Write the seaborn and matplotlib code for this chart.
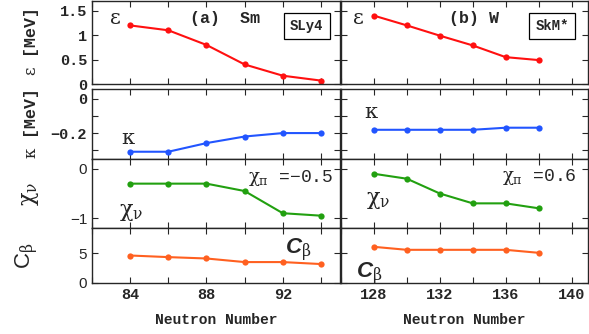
import numpy as np
import matplotlib
matplotlib.use("Agg")
import matplotlib.pyplot as plt
import seaborn as sns
from matplotlib.ticker import FixedLocator, NullFormatter

sns.set_style("ticks")
plt.rcParams["font.family"] = ["Liberation Mono", "DejaVu Sans"]
plt.rcParams["mathtext.fontset"] = "custom"
plt.rcParams["mathtext.rm"] = "DejaVu Serif"
plt.rcParams["mathtext.it"] = "DejaVu Serif"
plt.rcParams["mathtext.sf"] = "Liberation Sans"
plt.rcParams["mathtext.bf"] = "Liberation Sans:bold:italic"

# data
n_sm = [84, 86, 88, 90, 92, 94]
n_w = [128, 130, 132, 134, 136, 138]

eps_sm = [1.2, 1.1, 0.8, 0.4, 0.17, 0.07]
eps_w = [1.40, 1.20, 0.99, 0.79, 0.55, 0.49]
kap_sm = [-0.308, -0.308, -0.258, -0.22, -0.2, -0.2]
kap_w = [-0.181, -0.181, -0.181, -0.181, -0.169, -0.169]
chi_sm = [-0.30, -0.30, -0.30, -0.45, -0.90, -0.95]
chi_w = [-0.10, -0.20, -0.50, -0.70, -0.70, -0.80]
cb_sm = [4.6, 4.33, 4.1, 3.5, 3.5, 3.17]
cb_w = [6.05, 5.55, 5.55, 5.55, 5.55, 5.05]

colors = ["#ff1010", "#2255ff", "#22a010", "#ff6020"]
ylims = [(0, 1.7), (-0.35, 0.055), (-1.2, 0.2), (0, 9.2)]
yticks = [[0, 0.5, 1, 1.5], [0, -0.2], [0, -1], [0, 5]]
yticklabels = [["0", "0.5", "1", "1.5"], ["0", "\u22120.2"], ["0", "\u22121"], ["0", "5"]]
yminor = [[], [-0.1, -0.3], [], []]
ylabels = [r"$\varepsilon$ [MeV]", r"$\kappa$ [MeV]", r"$\chi_{\nu}$", r"$\mathsf{C}_{\beta}$"]

W, H = 589, 334
fig = plt.figure(figsize=(W / 100, H / 100), dpi=100)

cols = [(92, 340), (341, 588)]
rows = [(1, 84), (89, 159), (159, 228), (228, 283)]
series = [[eps_sm, kap_sm, chi_sm, cb_sm], [eps_w, kap_w, chi_w, cb_w]]
xs = [n_sm, n_w]
xlims = [(82, 95), (126, 141)]
xmaj = [[84, 88, 92], [128, 132, 136, 140]]
xall = [np.arange(82, 96, 2), np.arange(126, 142, 2)]

axes = [[None] * 4 for _ in range(2)]
for c, (x0, x1) in enumerate(cols):
    for r, (y0, y1) in enumerate(rows):
        ax = fig.add_axes([x0 / W, (H - y1) / H, (x1 - x0) / W, (y1 - y0) / H])
        axes[c][r] = ax
        sns.lineplot(x=xs[c], y=series[c][r], ax=ax, color=colors[r], marker="o",
                     markersize=4.5, markeredgewidth=0, linewidth=1.5)
        ax.set_xlim(*xlims[c])
        ax.set_ylim(*ylims[r])
        ax.xaxis.set_major_locator(FixedLocator(xmaj[c]))
        ax.xaxis.set_minor_locator(FixedLocator([v for v in xall[c] if v not in xmaj[c]]))
        ax.set_yticks(yticks[r])
        ax.yaxis.set_minor_locator(FixedLocator(yminor[r]))
        ax.tick_params(which="both", direction="in", top=True, right=True,
                       length=4, width=0.8, labelsize=10)
        for s in ax.spines.values():
            s.set_linewidth(1.0)
        if c == 0:
            if r < 2:
                ax.set_yticklabels(yticklabels[r], fontweight="bold", fontsize=11)
                ax.set_ylabel(ylabels[r], fontsize=12, fontweight="bold")
            else:
                ax.set_yticklabels(yticklabels[r], family="Liberation Sans", fontsize=11)
                ax.set_ylabel(ylabels[r], fontsize=16)
        else:
            ax.yaxis.set_major_formatter(NullFormatter())
        if r < 3:
            ax.xaxis.set_major_formatter(NullFormatter())
        else:
            for lab in ax.get_xticklabels():
                lab.set_fontweight("bold")
                lab.set_fontsize(11)
            ax.set_xlabel("Neutron Number", fontsize=10.5, fontweight="bold", labelpad=8)

for r in range(4):
    axes[0][r].yaxis.set_label_coords(-0.205, 0.5)

a = axes[0]
b = axes[1]
a[0].text(0.07, 0.72, r"$\varepsilon$", transform=a[0].transAxes, fontsize=15)
a[0].text(0.395, 0.74, "(a)  Sm", transform=a[0].transAxes, fontsize=12, fontweight="bold")
a[0].text(0.865, 0.65, "SLy4", transform=a[0].transAxes, fontsize=10, ha="center",
          fontweight="bold",
          bbox=dict(boxstyle="square,pad=0.45", fc="white", ec="black", lw=0.9))
b[0].text(0.045, 0.72, r"$\varepsilon$", transform=b[0].transAxes, fontsize=15)
b[0].text(0.437, 0.74, "(b) W", transform=b[0].transAxes, fontsize=12, fontweight="bold")
b[0].text(0.855, 0.65, "SkM*", transform=b[0].transAxes, fontsize=10, ha="center",
          fontweight="bold",
          bbox=dict(boxstyle="square,pad=0.45", fc="white", ec="black", lw=0.9))

a[1].text(0.115, 0.22, r"$\kappa$", transform=a[1].transAxes, fontsize=15)
b[1].text(0.095, 0.58, r"$\kappa$", transform=b[1].transAxes, fontsize=15)

a[2].text(0.63, 0.66, "$\\chi_{\\pi}$ =\u22120.5", transform=a[2].transAxes, fontsize=13)
b[2].text(0.65, 0.68, r"$\chi_{\pi}$ =0.6", transform=b[2].transAxes, fontsize=13)
a[2].text(0.11, 0.17, r"$\chi_{\nu}$", transform=a[2].transAxes, fontsize=16)
b[2].text(0.10, 0.35, r"$\chi_{\nu}$", transform=b[2].transAxes, fontsize=16)

a[3].text(0.78, 0.52, r"$\mathbf{C}_{\beta}$", transform=a[3].transAxes, fontsize=16)
b[3].text(0.06, 0.08, r"$\mathbf{C}_{\beta}$", transform=b[3].transAxes, fontsize=16)

fig.savefig("out.png", dpi=100)
